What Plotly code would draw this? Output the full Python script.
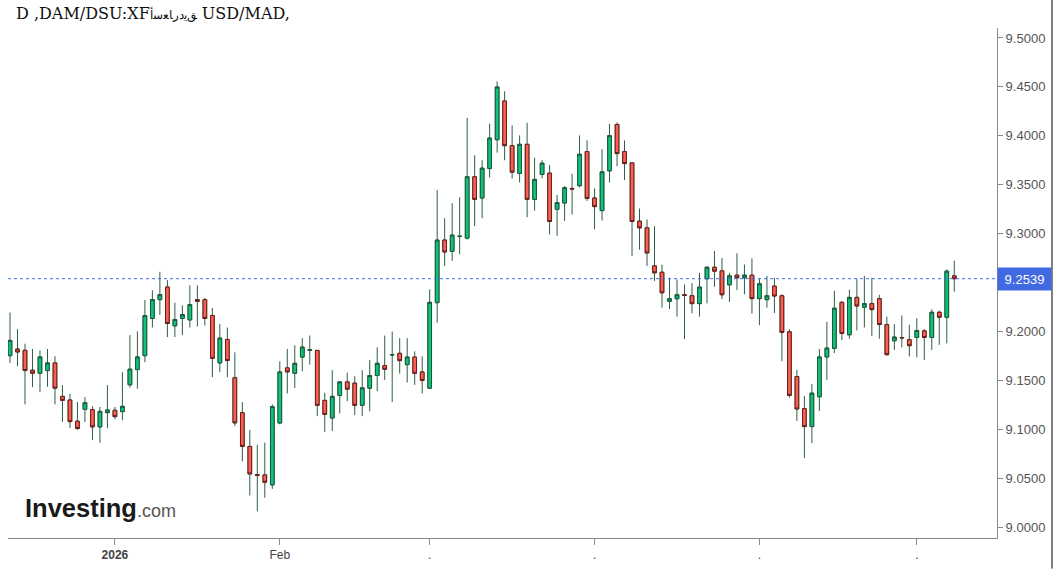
import pandas as pd
import plotly.graph_objects as go

# ---- data ----
dates = [d.strftime("%Y-%m-%d") for d in pd.bdate_range("2025-12-12", periods=127)]

open_ = [9.1752, 9.1820, 9.1807, 9.1603, 9.1573, 9.1600, 9.1678, 9.1336, 9.1299, 9.1082,
         9.1204, 9.1200, 9.1024, 9.1170, 9.1194, 9.1180, 9.1454, 9.1610, 9.1752, 9.2132,
         9.2325, 9.2454, 9.2057, 9.2132, 9.2118, 9.2325, 9.2325, 9.2162, 9.1678, 9.1918,
         9.1526, 9.1169, 9.0824, 9.0537, 9.0533, 9.0431, 9.1064, 9.1627, 9.1572, 9.1738,
         9.1806, 9.1806, 9.1295, 9.1115, 9.1345, 9.1484, 9.1471, 9.1244, 9.1420, 9.1549,
         9.1650, 9.1760, 9.1776, 9.1660, 9.1738, 9.1586, 9.1420, 9.2294, 9.2934, 9.2819,
         9.2970, 9.2954, 9.3581, 9.3364, 9.3665, 9.3960, 9.4356, 9.3899, 9.3615, 9.3913,
         9.3350, 9.3605, 9.3618, 9.3249, 9.3313, 9.3462, 9.3490, 9.3838, 9.3364, 9.3235,
         9.3642, 9.4116, 9.3838, 9.3723, 9.3127, 9.3059, 9.2670, 9.2605, 9.2307, 9.2334,
         9.2374, 9.2365, 9.2284, 9.2538, 9.2656, 9.2619, 9.2477, 9.2575, 9.2548, 9.2575,
         9.2335, 9.2325, 9.2463, 9.2365, 9.1996, 9.1539, 9.1210, 9.1027, 9.1332, 9.1739,
         9.1827, 9.2297, 9.1966, 9.2348, 9.2247, 9.2284, 9.2335, 9.2070, 9.1905, 9.1937,
         9.1915, 9.1938, 9.2006, 9.1938, 9.2196, 9.2145, 9.2568]
high = [9.2193, 9.2023, 9.1874, 9.1820, 9.1807, 9.1820, 9.1746, 9.1451, 9.1363, 9.1278,
        9.1329, 9.1234, 9.1227, 9.1451, 9.1227, 9.1583, 9.1962, 9.2000, 9.2321, 9.2420,
        9.2610, 9.2525, 9.2294, 9.2267, 9.2471, 9.2471, 9.2345, 9.2240, 9.2074, 9.2040,
        9.1786, 9.1277, 9.0993, 9.0841, 9.0864, 9.1254, 9.1694, 9.1820, 9.1857, 9.1931,
        9.1958, 9.1810, 9.1373, 9.1603, 9.1490, 9.1579, 9.1542, 9.1603, 9.1708, 9.1837,
        9.1958, 9.1999, 9.1931, 9.1931, 9.1796, 9.1745, 9.2430, 9.3445, 9.3157, 9.3310,
        9.3371, 9.4184, 9.3801, 9.3750, 9.4123, 9.4556, 9.4455, 9.4106, 9.4004, 9.4133,
        9.3777, 9.3750, 9.3700, 9.3395, 9.3486, 9.3611, 9.4004, 9.3953, 9.3462, 9.3862,
        9.4123, 9.4136, 9.3953, 9.3727, 9.3256, 9.3144, 9.3076, 9.2683, 9.2548, 9.2531,
        9.2480, 9.2494, 9.2599, 9.2666, 9.2822, 9.2751, 9.2599, 9.2799, 9.2684, 9.2748,
        9.2535, 9.2568, 9.2548, 9.2379, 9.2023, 9.1607, 9.1339, 9.1464, 9.1820, 9.2098,
        9.2416, 9.2311, 9.2426, 9.2535, 9.2568, 9.2548, 9.2375, 9.2152, 9.2074, 9.2162,
        9.2067, 9.2135, 9.2023, 9.2226, 9.2213, 9.2633, 9.2724]
low = [9.1678, 9.1644, 9.1254, 9.1431, 9.1380, 9.1434, 9.1254, 9.1075, 9.1011, 9.0995,
       9.1075, 9.0889, 9.0862, 9.1011, 9.1102, 9.1092, 9.1424, 9.1414, 9.1685, 9.2040,
       9.2169, 9.1942, 9.1942, 9.1962, 9.2040, 9.2050, 9.2060, 9.1532, 9.1583, 9.1532,
       9.1034, 9.0671, 9.0323, 9.0160, 9.0300, 9.0390, 9.1050, 9.1366, 9.1420, 9.1593,
       9.1660, 9.1135, 9.0973, 9.0983, 9.1162, 9.1288, 9.1145, 9.1135, 9.1183, 9.1389,
       9.1505, 9.1278, 9.1569, 9.1478, 9.1454, 9.1366, 9.1410, 9.2090, 9.2670, 9.2721,
       9.2788, 9.2940, 9.3076, 9.3157, 9.3574, 9.3828, 9.3750, 9.3564, 9.3523, 9.3168,
       9.3235, 9.3564, 9.2991, 9.2978, 9.3130, 9.3195, 9.3472, 9.3334, 9.3046, 9.3134,
       9.3523, 9.3689, 9.3547, 9.2771, 9.2836, 9.2670, 9.2517, 9.2243, 9.2229, 9.2151,
       9.1921, 9.2185, 9.2151, 9.2287, 9.2456, 9.2331, 9.2301, 9.2423, 9.2379, 9.2182,
       9.2064, 9.2243, 9.2189, 9.1695, 9.1322, 9.1085, 9.0706, 9.0858, 9.1187, 9.1505,
       9.1779, 9.1911, 9.1925, 9.2010, 9.2040, 9.1952, 9.1925, 9.1756, 9.1810, 9.1837,
       9.1745, 9.1735, 9.1708, 9.1810, 9.1864, 9.1878, 9.2406]
close = [9.1908, 9.1790, 9.1600, 9.1573, 9.1739, 9.1678, 9.1420, 9.1295, 9.1078, 9.1007,
         9.1271, 9.1024, 9.1183, 9.1197, 9.1129, 9.1234, 9.1614, 9.1739, 9.2162, 9.2325,
         9.2376, 9.2081, 9.2122, 9.2172, 9.2274, 9.2308, 9.2132, 9.1725, 9.1932, 9.1702,
         9.1065, 9.0824, 9.0543, 9.0530, 9.0458, 9.1230, 9.1586, 9.1586, 9.1674, 9.1840,
         9.1812, 9.1244, 9.1152, 9.1336, 9.1484, 9.1410, 9.1244, 9.1423, 9.1549, 9.1674,
         9.1613, 9.1762, 9.1701, 9.1738, 9.1572, 9.1498, 9.2297, 9.2934, 9.2812, 9.2985,
         9.2973, 9.3581, 9.3350, 9.3669, 9.3977, 9.4499, 9.3899, 9.3628, 9.3913, 9.3350,
         9.3554, 9.3720, 9.3124, 9.3317, 9.3469, 9.3457, 9.3811, 9.3360, 9.3276, 9.3632,
         9.4001, 9.3818, 9.3716, 9.3124, 9.3059, 9.2802, 9.2599, 9.2395, 9.2334, 9.2375,
         9.2370, 9.2284, 9.2453, 9.2656, 9.2616, 9.2375, 9.2568, 9.2548, 9.2575, 9.2335,
         9.2487, 9.2365, 9.2362, 9.1989, 9.1346, 9.1207, 9.1027, 9.1369, 9.1739, 9.1830,
         9.2237, 9.1979, 9.2348, 9.2260, 9.2284, 9.2223, 9.2070, 9.1762, 9.1942, 9.1935,
         9.1854, 9.2010, 9.1938, 9.2196, 9.2145, 9.2616, 9.2539]

tick_dates = ["2026-01-01", "2026-02-02", "2026-03-02", "2026-04-01", "2026-05-01", "2026-06-01"]
tick_text = ["<b>2026</b>", "Feb", ".", ".", ".", "."]
y_ticks = [9.00, 9.05, 9.10, 9.15, 9.20, 9.30, 9.35, 9.40, 9.45, 9.50]

# title as shown in the reference (mixed, visually reversed text)
arabic_part = "\ufed6\ufef3\ufea9\ufead\ufe8e\ufecc\ufeb3\ufe83"
title_text = ("D ,DAM/DSU:XF<span style='font-size:12px'>" + arabic_part + "</span> USD/MAD,")

# ---- figure ----
WICK = "#2e5e46"
fig = go.Figure()

# wicks (all dark green-grey)
fig.add_trace(go.Candlestick(
    x=dates, open=open_, high=high, low=low, close=close,
    increasing=dict(line=dict(color=WICK, width=1), fillcolor=WICK),
    decreasing=dict(line=dict(color=WICK, width=1), fillcolor=WICK),
    whiskerwidth=0, showlegend=False, hoverinfo="skip"))

# bodies
body_hi = [max(o, c) for o, c in zip(open_, close)]
body_lo = [min(o, c) for o, c in zip(open_, close)]
fig.add_trace(go.Candlestick(
    x=dates, open=open_, high=body_hi, low=body_lo, close=close,
    increasing=dict(line=dict(color="#1b5a3a", width=1), fillcolor="#0fc27c"),
    decreasing=dict(line=dict(color="#6b1d17", width=1), fillcolor="#fb5e52"),
    whiskerwidth=0, showlegend=False))

last = close[-1]
fig.add_shape(type="line", xref="paper", x0=0, x1=1, yref="y", y0=last, y1=last,
              line=dict(color="#3f6cf2", width=1, dash="dot"))
# right border
fig.add_shape(type="line", xref="paper", x0=1.0556, x1=1.0556, yref="paper", y0=-0.06, y1=1.06,
              line=dict(color="#000000", width=1))

fig.add_annotation(xref="paper", x=1.0, xanchor="left", yref="y", y=last, yanchor="middle",
                   text=f"{last:.4f}", showarrow=False, bgcolor="#4169e1",
                   font=dict(color="white", size=13, family="Liberation Sans, Arial"),
                   width=51, height=20, align="center")

fig.add_annotation(xref="paper", yref="paper", x=0.0150, y=0.058, xanchor="left", yanchor="middle",
                   text="<b>Investing</b><span style='font-size:18px;color:#555555'>.com</span>",
                   showarrow=False, font=dict(size=25.5, color="#1a1a1a", family="Liberation Sans, Arial"))

fig.add_annotation(xref="paper", yref="paper", x=0.0065, xanchor="left", y=1.0, yshift=15, yanchor="middle",
                   text=title_text, showarrow=False,
                   font=dict(size=16, color="#111111", family="DejaVu Serif, serif"))

fig.update_layout(
    width=1060, height=570, autosize=False,
    margin=dict(l=8, r=63, t=28, b=29),
    paper_bgcolor="white", plot_bgcolor="white",
    xaxis=dict(type="category", range=[-0.267, 131.7], rangeslider=dict(visible=False),
               showgrid=False, zeroline=False, showline=True, linecolor="#8a8a8a", linewidth=1,
               ticks="outside", ticklen=6, tickcolor="#8a8a8a",
               tickvals=tick_dates, ticktext=tick_text,
               tickfont=dict(size=12, color="#444444", family="Liberation Sans, Arial")),
    yaxis=dict(side="right", range=[8.9888, 9.5102], tickvals=y_ticks, tickformat=".4f",
               showgrid=False, zeroline=False, showline=True, linecolor="#8a8a8a", linewidth=1,
               ticks="outside", ticklen=5, tickcolor="#8a8a8a",
               tickfont=dict(size=13, color="#555555", family="Liberation Sans, Arial")),
    showlegend=False,
)

fig.write_html("out.html")
